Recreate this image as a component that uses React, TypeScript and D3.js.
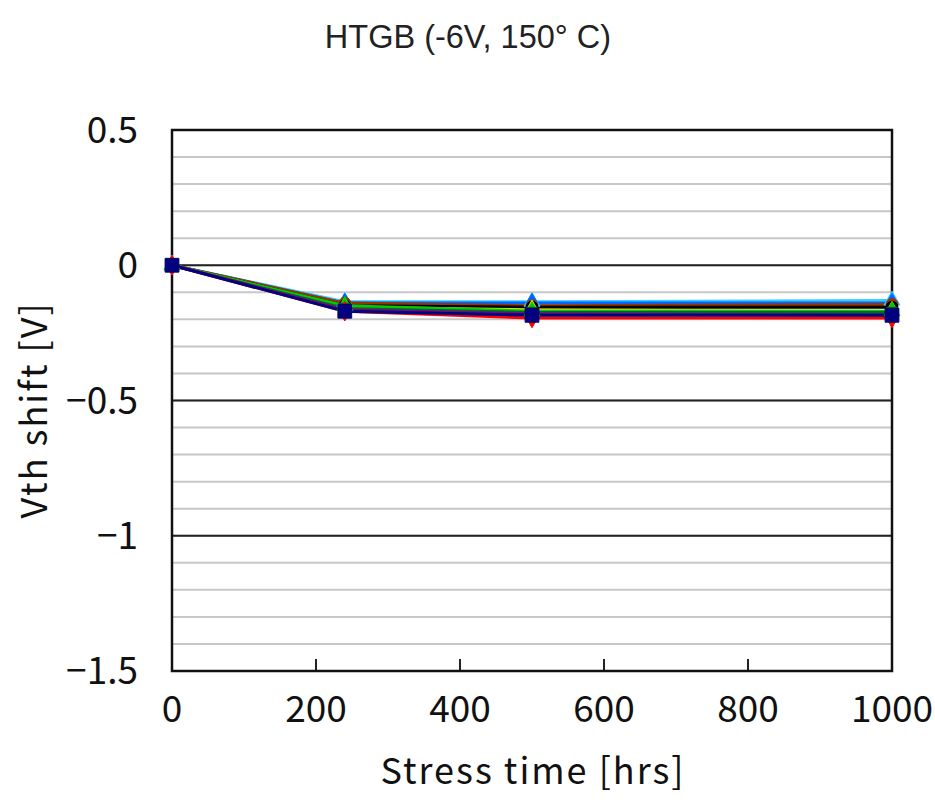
import React from "react";
import * as d3 from "d3";

const hours = [0, 240, 500, 1000];
const seriesNames = ["S1", "S2", "S3", "S4", "S5", "S6", "S7", "S8", "S9", "S10"];
const seriesColors = ["#33ccff", "#0066ff", "#993300", "#000000", "#dddd00", "#00cc00", "#006633", "#800080", "#ff0000", "#000080"];
const seriesMarkers = ["triangle", "diamond", "circle", "circle", "diamond", "triangle", "square", "circle", "diamond", "square"];
const seriesValues = [
  [0, -0.135, -0.135, -0.13],
  [0, -0.14, -0.14, -0.14],
  [0, -0.14, -0.15, -0.145],
  [0, -0.15, -0.155, -0.155],
  [0, -0.155, -0.165, -0.17],
  [0, -0.15, -0.17, -0.17],
  [0, -0.16, -0.175, -0.175],
  [0, -0.165, -0.18, -0.185],
  [0, -0.17, -0.195, -0.195],
  [0, -0.17, -0.185, -0.185],
];
const xTicks = [0, 200, 400, 600, 800, 1000];
const yTicks = [0.5, 0, -0.5, -1, -1.5];
const yMinor = d3.range(-15, 6).map((d) => d / 10);

export default function App() {
  const W = 935, H = 809;
  const x = d3.scaleLinear().domain([0, 1000]).range([172, 892]);
  const y = d3.scaleLinear().domain([-1.5, 0.5]).range([671, 130]);
  const line = d3.line<number>().x((_, i) => x(hours[i])).y((d) => y(d));
  const tickFont = "'Noto Sans CJK JP', 'DejaVu Sans', sans-serif";
  const sym = (m: string, s: number) => {
    const t = m === "triangle" ? d3.symbolTriangle : m === "diamond" ? d3.symbolDiamond : m === "circle" ? d3.symbolCircle : d3.symbolSquare;
    return d3.symbol().type(t).size(s)() as string;
  };
  return (
    <svg width={W} height={H} style={{ position: "absolute", left: 0, top: 0, background: "#fff" }}>
      <text x={468} y={48} textAnchor="middle" fontFamily="'Liberation Sans', Arial, sans-serif" fontSize={32.5} fill="#222">
        HTGB (-6V, 150° C)
      </text>
      {yMinor.map((v) => (
        <line key={"m" + v} x1={x(0)} x2={x(1000)} y1={y(v)} y2={y(v)} stroke="#c8c8c8" strokeWidth={2} />
      ))}
      {yTicks.map((v) => (
        <line key={"M" + v} x1={x(0)} x2={x(1000)} y1={y(v)} y2={y(v)} stroke="#222" strokeWidth={2} />
      ))}
      {xTicks.slice(1, -1).map((v) => (
        <line key={"t" + v} x1={x(v)} x2={x(v)} y1={y(-1.5)} y2={y(-1.5) - 12} stroke="#222" strokeWidth={2} />
      ))}
      <rect x={x(0)} y={y(0.5)} width={x(1000) - x(0)} height={y(-1.5) - y(0.5)} fill="none" stroke="#111" strokeWidth={2.5} />
      {seriesValues.map((vals, si) => (
        <path key={"l" + si} d={line(vals) as string} fill="none" stroke={seriesColors[si]} strokeWidth={3} />
      ))}
      {seriesValues.map((vals, si) =>
        vals.map((v, i) => (
          <path
            key={"p" + si + "-" + i}
            d={sym(seriesMarkers[si], si === seriesValues.length - 1 ? 190 : 110)}
            transform={`translate(${x(hours[i])},${y(v)})`}
            fill={seriesColors[si]}
            stroke={si === seriesValues.length - 1 ? "#000060" : seriesColors[si]}
            strokeWidth={1}
          />
        ))
      )}
      {yTicks.map((v) => (
        <text key={"yl" + v} x={138} y={y(v) + 13} textAnchor="end" fontFamily={tickFont} fontSize={37} fill="#111">
          {v === 0 ? "0" : d3.format("")(v).replace("-", "−")}
        </text>
      ))}
      {xTicks.map((v) => (
        <text key={"xl" + v} x={x(v)} y={722} textAnchor="middle" fontFamily={tickFont} fontSize={37} fill="#111">
          {v}
        </text>
      ))}
      <text x={533} y={784} textAnchor="middle" fontFamily={tickFont} fontSize={36} letterSpacing={2} fill="#111">
        Stress time [hrs]
      </text>
      <text transform={`translate(47,410) rotate(-90)`} textAnchor="middle" fontFamily={tickFont} fontSize={36} letterSpacing={2} fill="#111">
        Vth shift [V]
      </text>
    </svg>
  );
}
